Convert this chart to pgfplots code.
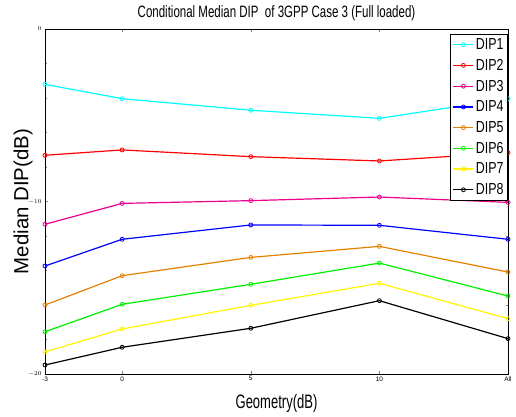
\documentclass[border=0pt]{standalone}
\usepackage{fontspec}
\setmainfont{Liberation Sans}
\usepackage{graphicx}
\usepackage{pgfplots}
\pgfplotsset{compat=1.18}
\definecolor{dipcyan}{RGB}{0,255,255}
\definecolor{diporange}{RGB}{230,128,0}
\definecolor{dipgreen}{RGB}{0,240,0}
\definecolor{dipyellow}{RGB}{255,245,0}
% narrow text, as in the MATLAB figure
\newcommand\cx[2][0.72]{\scalebox{#1}[1]{#2}}
\begin{document}
\begin{tikzpicture}
\begin{axis}[
    scale only axis,
    width=463bp,
    height=345bp,
    xmin=-3, xmax=15,
    ymin=-20, ymax=0,
    xtick={-3,0,5,10,15},
    xticklabels={-3,0,5,10,All},
    ytick={-20,-10,0},
    minor y tick num=4,
    tick align=inside,
    xtick pos=both, ytick pos=both,
    major tick length=3pt,
    minor tick length=2pt,
    axis line style={line width=0.9pt},
    tick label style={font=\fontsize{6.5}{7}\selectfont},
    xticklabel style={yshift=1pt},
    title={\cx[0.7]{Conditional Median DIP\ \ of 3GPP Case 3 (Full loaded)}},
    title style={font=\fontsize{16.5}{18}\selectfont, at={(axis description cs:0.5,1.0174)}, anchor=base},
    xlabel={\cx[0.67]{Geometry(dB)}},
    xlabel style={font=\fontsize{19.5}{21}\selectfont, at={(axis description cs:0.5,-0.1014)}, anchor=base},
    ylabel={Median DIP(dB)},
    ylabel style={font=\fontsize{20.5}{22}\selectfont, at={(axis description cs:-0.036,0.5)}, anchor=base},
    legend style={at={(rel axis cs:1,0.9855)}, anchor=north east,
        font=\fontsize{16}{18}\selectfont, draw=black, line width=0.9pt,
        row sep=4.2bp, inner sep=2pt},
    legend image code/.code={\draw[mark repeat=2,mark phase=2] plot coordinates {(0cm,0cm) (0.35cm,0cm) (0.7cm,0cm)};},
    legend cell align=left,
    every axis plot/.append style={line width=1.2pt, mark=o, mark size=2pt,
        mark options={solid, line width=0.8pt}},
]
\addplot[dipcyan] coordinates {(-3,-3.21) (0,-4.04) (5,-4.71) (10,-5.18) (15,-4.04)};
\addlegendentry{\cx[0.78]{DIP1}}
\addplot[red] coordinates {(-3,-7.32) (0,-7.01) (5,-7.40) (10,-7.65) (15,-7.17)};
\addlegendentry{\cx[0.78]{DIP2}}
\addplot[magenta] coordinates {(-3,-11.32) (0,-10.11) (5,-9.95) (10,-9.74) (15,-10.05)};
\addlegendentry{\cx[0.78]{DIP3}}
\addplot[blue] coordinates {(-3,-13.74) (0,-12.19) (5,-11.36) (10,-11.38) (15,-12.19)};
\addlegendentry{\cx[0.78]{DIP4}}
\addplot[diporange] coordinates {(-3,-16.0) (0,-14.30) (5,-13.24) (10,-12.60) (15,-14.09)};
\addlegendentry{\cx[0.78]{DIP5}}
\addplot[dipgreen] coordinates {(-3,-17.55) (0,-15.96) (5,-14.80) (10,-13.57) (15,-15.48)};
\addlegendentry{\cx[0.78]{DIP6}}
\addplot[dipyellow] coordinates {(-3,-18.72) (0,-17.39) (5,-16.02) (10,-14.74) (15,-16.79)};
\addlegendentry{\cx[0.78]{DIP7}}
\addplot[black] coordinates {(-3,-19.48) (0,-18.45) (5,-17.35) (10,-15.75) (15,-17.95)};
\addlegendentry{\cx[0.78]{DIP8}}
\end{axis}
\pgfresetboundingbox
\path ([shift={(-45bp,-43bp)}]current axis.south west) rectangle ([shift={(8bp,29bp)}]current axis.north east);
\end{tikzpicture}
\end{document}
